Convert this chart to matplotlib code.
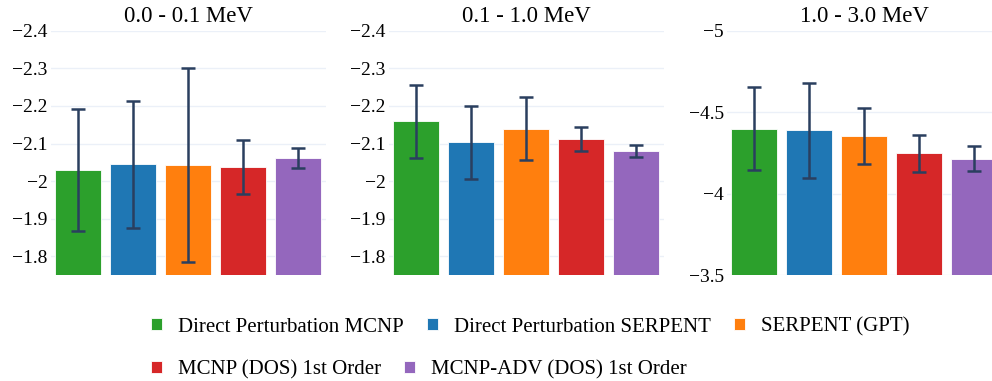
import matplotlib
matplotlib.use("Agg")
from matplotlib import pyplot as plt
from matplotlib.ticker import FuncFormatter

plt.rcParams['font.family'] = ['Liberation Serif', 'DejaVu Serif']

# data
methods = ["Direct Perturbation MCNP", "Direct Perturbation SERPENT", "SERPENT (GPT)",
           "MCNP (DOS) 1st Order", "MCNP-ADV (DOS) 1st Order"]
colors = ["#2ca02c", "#1f77b4", "#ff7f0e", "#d62728", "#9467bd"]
energy_groups = ["0.0 - 0.1 MeV", "0.1 - 1.0 MeV", "1.0 - 3.0 MeV"]

values_low = [-2.030, -2.045, -2.043, -2.038, -2.062]
errors_low = [0.163, 0.168, 0.258, 0.072, 0.026]
values_mid = [-2.159, -2.104, -2.140, -2.112, -2.080]
errors_mid = [0.096, 0.097, 0.084, 0.031, 0.016]
values_high = [-4.398, -4.388, -4.352, -4.248, -4.215]
errors_high = [0.254, 0.290, 0.172, 0.114, 0.076]

values = [values_low, values_mid, values_high]
errors = [errors_low, errors_mid, errors_high]
ylims = [(-1.75, -2.4), (-1.75, -2.4), (-3.5, -5.0)]
yticks = [[-2.4, -2.3, -2.2, -2.1, -2.0, -1.9, -1.8],
          [-2.4, -2.3, -2.2, -2.1, -2.0, -1.9, -1.8],
          [-5.0, -4.5, -4.0, -3.5]]

fig = plt.figure(figsize=(9.92, 3.81), dpi=100)
lefts = [50.5 / 992, 388.5 / 992, 726.5 / 992]
fmt = FuncFormatter(lambda v, pos: f"{v:g}".replace("-", "\u2212"))

bars = []
for i in range(3):
  ax = fig.add_axes([lefts[i], 105.7 / 381, 275 / 992, 244.6 / 381])
  x = list(range(len(methods)))
  bars = ax.bar(x, values[i], width=0.84, color=colors, edgecolor="white", linewidth=0.6, zorder=2)
  ax.errorbar(x, values[i], yerr=errors[i], fmt="none", ecolor="#2a3f5f",
              elinewidth=1.8, capsize=4.7, capthick=1.8, zorder=3)
  ax.set_xlim(-0.5, len(methods) - 0.5)
  ax.set_ylim(*ylims[i])
  ax.set_yticks(yticks[i])
  ax.yaxis.set_major_formatter(fmt)
  ax.set_xticks([])
  ax.grid(axis="y", color="#ebf0f8", linewidth=1, zorder=0)
  for s in ax.spines.values():
    s.set_visible(False)
  ax.tick_params(axis="y", length=0, pad=2, labelsize=14)
  ax.set_title(energy_groups[i], fontsize=16.5, pad=6)

# legend in two rows like the original
leg_kw = dict(frameon=False, fontsize=15, handlelength=0.53, handleheight=0.53,
              handletextpad=0.77, columnspacing=1.1, borderpad=0, borderaxespad=0,
              loc="center left")
fig.legend(bars[:3], methods[:3], ncol=3, bbox_to_anchor=(151 / 992, 0.1417), **leg_kw)
fig.legend(bars[3:], methods[3:], ncol=2, bbox_to_anchor=(151 / 992, 0.0289), **leg_kw)

plt.savefig("out.png", dpi=100)
